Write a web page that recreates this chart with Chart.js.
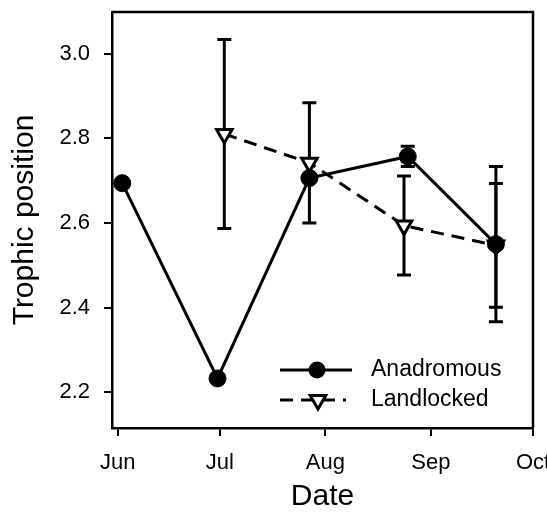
<!DOCTYPE html>
<html lang="en">
<head>
<meta charset="UTF-8">
<title>Trophic position by date</title>
<script src="https://cdn.jsdelivr.net/npm/chart.js"></script>
<style>
  html, body { margin: 0; padding: 0; background: #fff; overflow: hidden; }
  #wrap { width: 547px; height: 512px; }
</style>
</head>
<body>
<div id="wrap"><canvas id="chart" width="547" height="512"></canvas></div>
<script>
  // x values are days counted from 1 June
  const monthTicks = [0, 30, 61, 92, 122];
  const monthLabels = ['Jun', 'Jul', 'Aug', 'Sep', 'Oct'];
  const yTicks = [2.2, 2.4, 2.6, 2.8, 3.0];

  const anaDays = [1.3, 29.3, 56.3, 85.2, 111.1];
  const anaTP   = [2.694, 2.233, 2.706, 2.757, 2.550];
  const anaErr  = [0, 0, 0, 0.024, 0.183];

  const landDays = [31.3, 56.3, 84.1, 111.1];
  const landTP   = [2.810, 2.742, 2.594, 2.547];
  const landErr  = [0.223, 0.142, 0.117, 0.146];

  const FONT = "'Liberation Sans', Arial, sans-serif";
  const errs = [anaErr, landErr];

  // vertical error bars with caps, drawn under the markers
  const errorBars = {
    id: 'errorBars',
    beforeDatasetsDraw(chart) {
      const ctx = chart.ctx, y = chart.scales.y, x = chart.scales.x;
      ctx.save();
      ctx.strokeStyle = '#000';
      ctx.lineWidth = 3;
      chart.data.datasets.forEach((ds, i) => {
        ds.data.forEach((p, j) => {
          const e = errs[i][j];
          if (!e) return;
          const px = x.getPixelForValue(p.x);
          const y1 = y.getPixelForValue(p.y + e);
          const y2 = y.getPixelForValue(p.y - e);
          ctx.beginPath();
          ctx.moveTo(px, y1); ctx.lineTo(px, y2);
          ctx.moveTo(px - 7, y1); ctx.lineTo(px + 7, y1);
          ctx.moveTo(px - 7, y2); ctx.lineTo(px + 7, y2);
          ctx.stroke();
        });
      });
      ctx.restore();
    }
  };

  // top and right frame lines + legend
  const frameAndLegend = {
    id: 'frameAndLegend',
    afterDraw(chart) {
      const ctx = chart.ctx, a = chart.chartArea;
      ctx.save();
      ctx.strokeStyle = '#000';
      ctx.lineWidth = 2.5;
      ctx.beginPath();
      ctx.moveTo(a.left, a.top); ctx.lineTo(a.right, a.top); ctx.lineTo(a.right, a.bottom);
      ctx.stroke();

      const x0 = a.right - 253;
      const rows = [a.bottom - 58, a.bottom - 28];
      // Anadromous
      ctx.lineWidth = 3;
      ctx.beginPath();
      ctx.moveTo(x0, rows[0]); ctx.lineTo(x0 + 72, rows[0]);
      ctx.stroke();
      ctx.fillStyle = '#000';
      ctx.beginPath();
      ctx.arc(x0 + 37, rows[0], 8.5, 0, Math.PI * 2);
      ctx.fill();
      // Landlocked
      ctx.setLineDash([13, 8]);
      ctx.beginPath();
      ctx.moveTo(x0, rows[1]); ctx.lineTo(x0 + 66, rows[1]);
      ctx.stroke();
      ctx.setLineDash([]);
      const r = 9, cx = x0 + 38, cy = rows[1];
      ctx.beginPath();
      ctx.moveTo(cx - r * 0.866, cy - r / 2);
      ctx.lineTo(cx + r * 0.866, cy - r / 2);
      ctx.lineTo(cx, cy + r);
      ctx.closePath();
      ctx.fillStyle = '#fff';
      ctx.fill();
      ctx.lineWidth = 3;
      ctx.stroke();

      ctx.fillStyle = '#000';
      ctx.font = '23px ' + FONT;
      ctx.textBaseline = 'middle';
      ctx.fillText('Anadromous', x0 + 91, rows[0]);
      ctx.fillText('Landlocked', x0 + 91, rows[1]);
      ctx.restore();
    }
  };

  new Chart(document.getElementById('chart'), {
    type: 'scatter',
    data: {
      datasets: [
        {
          label: 'Anadromous',
          data: anaDays.map((d, i) => ({ x: d, y: anaTP[i] })),
          showLine: true,
          borderColor: '#000',
          borderWidth: 3,
          pointStyle: 'circle',
          pointRadius: 8.5,
          pointBackgroundColor: '#000',
          pointBorderColor: '#000',
          pointBorderWidth: 1
        },
        {
          label: 'Landlocked',
          data: landDays.map((d, i) => ({ x: d, y: landTP[i] })),
          showLine: true,
          borderColor: '#000',
          borderWidth: 3,
          borderDash: [13, 8],
          pointStyle: 'triangle',
          rotation: 180,
          pointRadius: 9,
          pointBackgroundColor: '#fff',
          pointBorderColor: '#000',
          pointBorderWidth: 3
        }
      ]
    },
    options: {
      responsive: false,
      animation: false,
      devicePixelRatio: 1,
      layout: { padding: { top: 12, right: 14, left: 0, bottom: 0 } },
      plugins: { legend: { display: false }, tooltip: { enabled: false } },
      scales: {
        x: {
          type: 'linear',
          min: -1.7, max: 122,
          afterBuildTicks: s => { s.ticks = monthTicks.map(v => ({ value: v })); },
          afterFit: s => { s.height = 84; s.paddingLeft = 0; s.paddingRight = 0; },
          ticks: {
            autoSkip: false, maxRotation: 0, padding: 14,
            color: '#000', font: { family: FONT, size: 22 },
            callback: v => monthLabels[monthTicks.indexOf(v)]
          },
          grid: { drawOnChartArea: false, drawTicks: true, tickLength: 8, color: '#000', lineWidth: 2 },
          border: { display: true, color: '#000', width: 2.5 },
          title: {
            display: true, text: 'Date', color: '#000',
            font: { family: FONT, size: 30, lineHeight: 1 },
            padding: { top: 0, bottom: 0 }
          }
        },
        y: {
          min: 2.116, max: 3.098,
          afterBuildTicks: s => { s.ticks = yTicks.map(v => ({ value: v })); },
          afterFit: s => { s.width = 112; s.paddingTop = 0; s.paddingBottom = 0; },
          ticks: {
            padding: 14, color: '#000', font: { family: FONT, size: 22 },
            callback: v => v.toFixed(1)
          },
          grid: { drawOnChartArea: false, drawTicks: true, tickLength: 8, color: '#000', lineWidth: 2 },
          border: { display: true, color: '#000', width: 2.5 },
          title: {
            display: true, text: 'Trophic position', color: '#000',
            font: { family: FONT, size: 30, lineHeight: 1.2 },
            padding: { top: 7, bottom: 0 }
          }
        }
      }
    },
    plugins: [errorBars, frameAndLegend]
  });
</script>
</body>
</html>
